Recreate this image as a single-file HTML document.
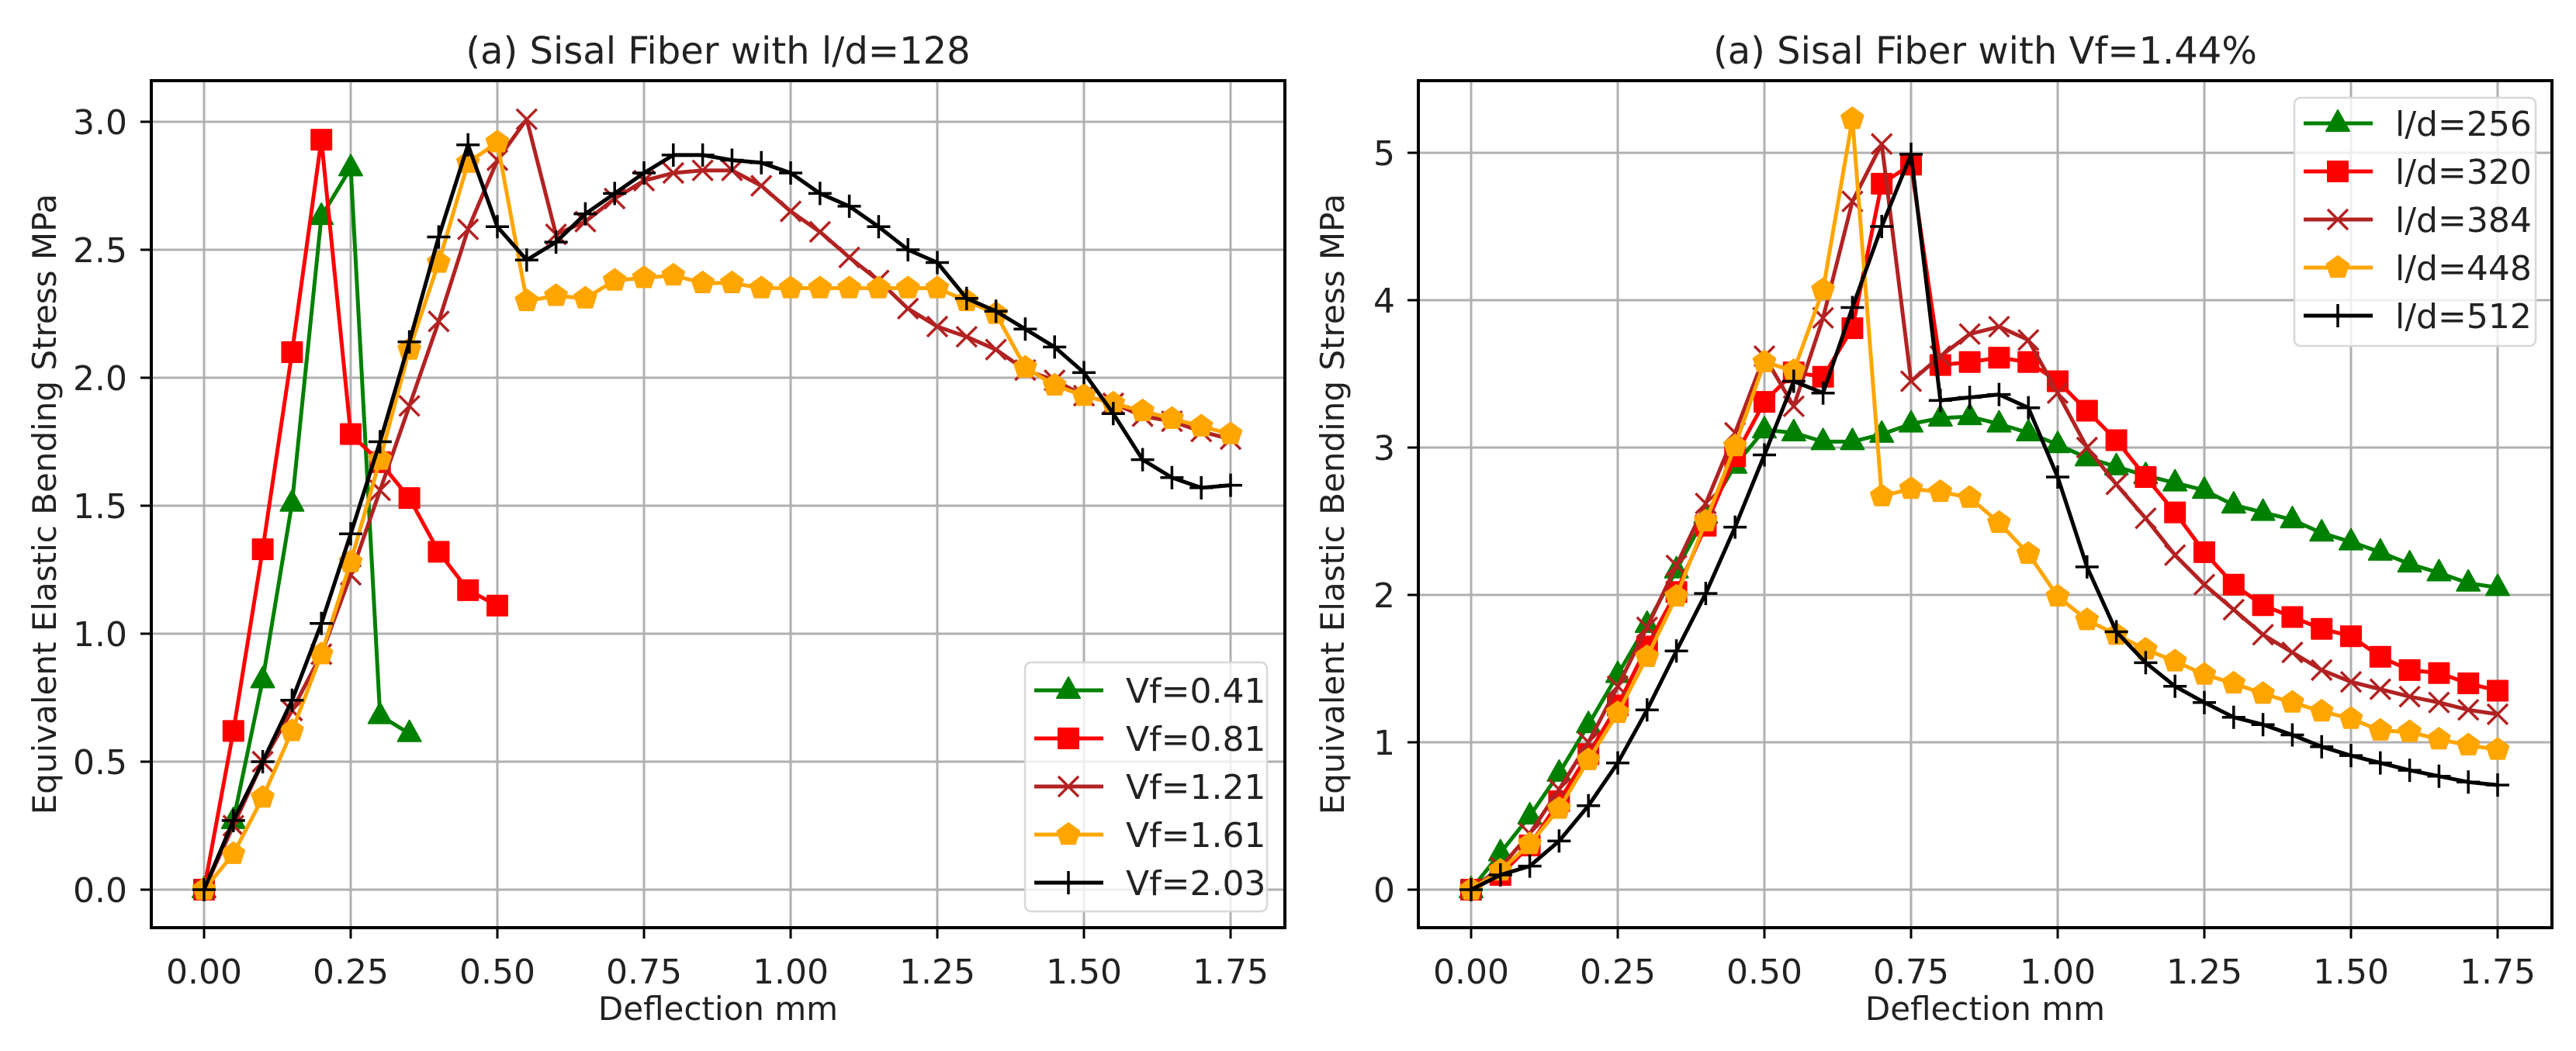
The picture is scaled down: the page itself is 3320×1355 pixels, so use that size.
<!DOCTYPE html>
<html><head><meta charset="utf-8"><style>
html,body{margin:0;padding:0;background:#fff;}
svg text{font-family:"DejaVu Sans","Liberation Sans",sans-serif;fill:#222;}
</style></head><body>
<svg id="fig" width="3320" height="1350" viewBox="0 0 3320 1350" xmlns="http://www.w3.org/2000/svg"></svg>
<script>
const xs = [0,0.05,0.1,0.15,0.2,0.25,0.3,0.35,0.4,0.45,0.5,0.55,0.6,0.65,0.7,0.75,0.8,0.85,0.9,0.95,1.0,1.05,1.1,1.15,1.2,1.25,1.3,1.35,1.4,1.45,1.5,1.55,1.6,1.65,1.7,1.75];
const xTicks = [0,0.25,0.5,0.75,1.0,1.25,1.5,1.75];
const xTickLabels = ["0.00","0.25","0.50","0.75","1.00","1.25","1.50","1.75"];
const leftYTicks = [0,0.5,1.0,1.5,2.0,2.5,3.0];
const leftYTickLabels = ["0.0","0.5","1.0","1.5","2.0","2.5","3.0"];
const rightYTicks = [0,1,2,3,4,5];
const rightYTickLabels = ["0","1","2","3","4","5"];
const leftNames = ["Vf=0.41","Vf=0.81","Vf=1.21","Vf=1.61","Vf=2.03"];
const rightNames = ["l/d=256","l/d=320","l/d=384","l/d=448","l/d=512"];
const vf041 = [0,0.27,0.82,1.51,2.63,2.82,0.68,0.61];
const vf081 = [0,0.62,1.33,2.10,2.93,1.78,1.67,1.53,1.32,1.17,1.11];
const vf121 = [0,0.25,0.50,0.70,0.92,1.23,1.56,1.89,2.22,2.58,2.85,3.01,2.56,2.61,2.70,2.77,2.80,2.81,2.81,2.75,2.65,2.57,2.47,2.38,2.27,2.20,2.16,2.11,2.03,1.99,1.93,1.90,1.85,1.83,1.79,1.76];
const vf161 = [0,0.14,0.36,0.62,0.92,1.28,1.68,2.11,2.45,2.84,2.92,2.30,2.32,2.31,2.38,2.39,2.40,2.37,2.37,2.35,2.35,2.35,2.35,2.35,2.35,2.35,2.30,2.25,2.04,1.97,1.93,1.90,1.87,1.84,1.81,1.78];
const vf203 = [0,0.27,0.50,0.74,1.04,1.39,1.75,2.14,2.55,2.91,2.59,2.46,2.53,2.64,2.72,2.80,2.87,2.87,2.85,2.84,2.80,2.72,2.67,2.59,2.50,2.45,2.31,2.26,2.19,2.12,2.02,1.86,1.68,1.61,1.57,1.58];
const ld256 = [0,0.25,0.50,0.79,1.12,1.46,1.80,2.17,2.54,2.88,3.12,3.10,3.04,3.04,3.09,3.16,3.20,3.21,3.16,3.10,3.02,2.93,2.87,2.81,2.76,2.71,2.61,2.56,2.51,2.42,2.36,2.29,2.21,2.15,2.08,2.05];
const ld320 = [0,0.10,0.30,0.60,0.92,1.25,1.65,2.02,2.47,2.94,3.31,3.51,3.48,3.81,4.79,4.92,3.56,3.58,3.61,3.58,3.45,3.25,3.05,2.80,2.56,2.29,2.07,1.93,1.85,1.77,1.72,1.58,1.49,1.47,1.40,1.35];
const ld384 = [0,0.15,0.38,0.68,1.00,1.38,1.78,2.20,2.62,3.10,3.62,3.28,3.88,4.67,5.06,3.45,3.62,3.77,3.82,3.73,3.37,3.00,2.75,2.52,2.27,2.07,1.90,1.73,1.61,1.49,1.41,1.36,1.31,1.27,1.22,1.19];
const ld448 = [0,0.13,0.31,0.55,0.88,1.20,1.58,1.99,2.50,3.01,3.58,3.52,4.07,5.23,2.67,2.72,2.70,2.66,2.49,2.28,1.99,1.83,1.73,1.63,1.55,1.46,1.40,1.33,1.27,1.21,1.16,1.08,1.07,1.02,0.98,0.95];
const ld512 = [0,0.10,0.16,0.33,0.57,0.86,1.22,1.62,2.01,2.46,2.95,3.45,3.37,3.95,4.50,4.99,3.32,3.34,3.36,3.27,2.80,2.19,1.75,1.54,1.38,1.27,1.17,1.12,1.05,0.97,0.91,0.86,0.81,0.77,0.73,0.71];

const NS="http://www.w3.org/2000/svg";
const svg=document.getElementById('fig');
const colors=["#008000","#ff0000","#b22222","#ffa500","#000000"];
const markers=["tri","sq","x","pent","plus"];
function mk(tag,attrs,parent){const e=document.createElementNS(NS,tag);for(const k in attrs)e.setAttribute(k,attrs[k]);(parent||svg).appendChild(e);return e;}
function marker(g,type,cx,cy,color){
  let e;
  if(type==="tri"){e=mk('polygon',{points:`${cx},${cy-17} ${cx+15},${cy+10} ${cx-15},${cy+10}`,fill:color,stroke:color,'stroke-width':2,'stroke-linejoin':'round'},g);}
  else if(type==="sq"){e=mk('rect',{x:cx-13,y:cy-13,width:26,height:26,fill:color,stroke:color,'stroke-width':2,'stroke-linejoin':'round'},g);}
  else if(type==="pent"){let p=[];for(let i=0;i<5;i++){const a=-Math.PI/2+i*2*Math.PI/5;p.push((cx+15*Math.cos(a)).toFixed(1)+","+(cy+15*Math.sin(a)).toFixed(1));}e=mk('polygon',{points:p.join(' '),fill:color,stroke:color,'stroke-width':2,'stroke-linejoin':'round'},g);}
  else if(type==="x"){e=mk('path',{d:`M${cx-13},${cy-13}L${cx+13},${cy+13}M${cx-13},${cy+13}L${cx+13},${cy-13}`,stroke:color,'stroke-width':3.5,fill:'none'},g);}
  else {e=mk('path',{d:`M${cx-15},${cy}L${cx+15},${cy}M${cx},${cy-15}L${cx},${cy+15}`,stroke:color,'stroke-width':3.5,fill:'none'},g);}
  
  
}
function panel(cfg){
  const {L,R,T,B,x0px,xUnit,y0px,yUnit,yTicks,yLabels,series,names,title,legend,id,ylabX,ytickR}=cfg;
  const X=v=>x0px+v*xUnit, Y=v=>y0px-v*yUnit;
  const g=mk('g',{});
  
  
  const grid=mk('g',{},g);
  
  
  xTicks.forEach((t,i)=>{
    const x=X(t);
    mk('line',{x1:x,x2:x,y1:T,y2:B,stroke:'#b0b0b0','stroke-width':3},grid);
    mk('line',{x1:x,x2:x,y1:B,y2:B+14,stroke:'#000','stroke-width':3},g);
    const tx=mk('text',{x:x,y:1268,'font-size':44,'text-anchor':'middle'},g);tx.textContent=xTickLabels[i];
    
    
  });
  yTicks.forEach((t,i)=>{
    const y=Y(t);
    mk('line',{x1:L,x2:R,y1:y,y2:y,stroke:'#b0b0b0','stroke-width':3},grid);
    mk('line',{x1:L-14,x2:L,y1:y,y2:y,stroke:'#000','stroke-width':3},g);
    const tx=mk('text',{x:ytickR,y:y+16,'font-size':44,'text-anchor':'end'},g);tx.textContent=yLabels[i];
    
    
  });
  series.forEach((s,k)=>{
    const sg=mk('g',{},g);
    
    
    const pts=s.map((v,i)=>X(xs[i]).toFixed(1)+","+Y(v).toFixed(1)).join(' ');
    const pl=mk('polyline',{points:pts,fill:'none',stroke:colors[k],'stroke-width':5,'stroke-linejoin':'round'},sg);
    
    
    s.forEach((v,i)=>marker(sg,markers[k],X(xs[i]),Y(v),colors[k]));
  });
  const fr=mk('rect',{x:L,y:T,width:R-L,height:B-T,fill:'none',stroke:'#000','stroke-width':4},g);
  
  
  const tt=mk('text',{x:(L+R)/2,y:82,'font-size':48,'text-anchor':'middle'},g);tt.textContent=title;
  
  
  const xl=mk('text',{x:(L+R)/2,y:1315,'font-size':42,'text-anchor':'middle'},g);xl.textContent="Deflection mm";
  
  
  const yl=mk('text',{x:ylabX,y:(T+B)/2,'font-size':42,'text-anchor':'middle',transform:`rotate(-90 ${ylabX} ${(T+B)/2})`},g);yl.textContent="Equivalent Elastic Bending Stress MPa";
  
  
  const lg=mk('g',{},g);
  
  
  mk('rect',{x:legend.x,y:legend.y,width:legend.w,height:legend.h,rx:8,fill:'rgba(255,255,255,0.8)',stroke:'#d8d8d8','stroke-width':2.5},lg);
  names.forEach((n,k)=>{
    const y=legend.y0+k*62;
    const e=mk('g',{},lg);
    
    
    mk('line',{x1:legend.x+12,x2:legend.x+101,y1:y,y2:y,stroke:colors[k],'stroke-width':5},e);
    marker(e,markers[k],legend.x+56,y,colors[k]);
    const t=mk('text',{x:legend.x+130,y:y+16,'font-size':44},e);t.textContent=n;
  });
}
panel({id:'left',L:195,R:1656,T:104,B:1196,x0px:263,xUnit:756,y0px:1147,yUnit:330,yTicks:leftYTicks,yLabels:leftYTickLabels,
  series:[vf041,vf081,vf121,vf161,vf203],names:leftNames,title:"(a) Sisal Fiber with l/d=128",ylabX:72,ytickR:164,
  legend:{x:1321,y:854,w:312,h:321,y0:890}});
panel({id:'right',L:1828,R:3289,T:104,B:1196,x0px:1896,xUnit:756,y0px:1147,yUnit:190,yTicks:rightYTicks,yLabels:rightYTickLabels,
  series:[ld256,ld320,ld384,ld448,ld512],names:rightNames,title:"(a) Sisal Fiber with Vf=1.44%",ylabX:1732,ytickR:1798,
  legend:{x:2957,y:126,w:311,h:320,y0:159}});
</script>
</body></html>
